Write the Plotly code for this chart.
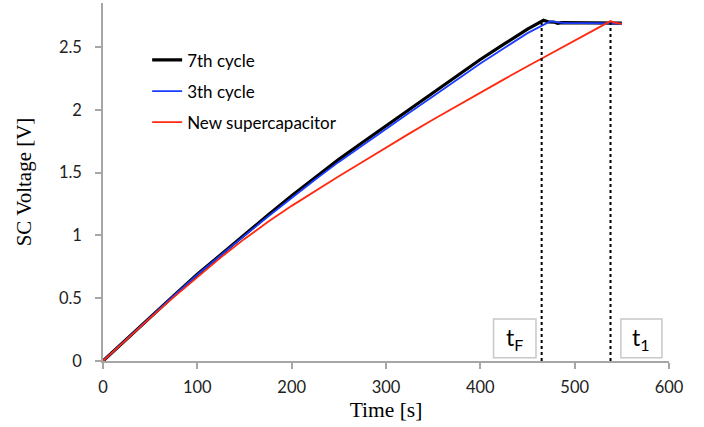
import plotly.graph_objects as go

# ---- data ----
t_7th = [0, 25, 50, 75, 100, 125, 150, 175, 200, 225, 250, 275, 300, 325, 350, 375, 400, 425, 450, 467,
         472, 478, 482, 486, 500, 520, 550]
v_7th = [0, 0.175, 0.35, 0.52, 0.69, 0.85, 1.008, 1.162, 1.315, 1.463, 1.605, 1.74, 1.872, 2.003, 2.135, 2.268, 2.40, 2.522, 2.642, 2.712,
         2.700, 2.698, 2.688, 2.694, 2.693, 2.693, 2.690]

t_3th = [0, 25, 50, 75, 100, 125, 150, 175, 200, 225, 250, 275, 300, 325, 350, 375, 400, 425, 450, 474,
         490, 510, 530, 550]
v_3th = [0, 0.175, 0.35, 0.52, 0.688, 0.845, 0.998, 1.15, 1.3, 1.445, 1.585, 1.718, 1.848, 1.978, 2.108, 2.238, 2.368, 2.49, 2.61, 2.703,
         2.690, 2.689, 2.688, 2.687]

t_new = [0, 25, 50, 75, 100, 125, 150, 175, 200, 225, 250, 275, 300, 325, 350, 375, 400, 425, 450, 475, 500, 525, 538, 542, 550]
v_new = [0, 0.172, 0.343, 0.508, 0.67, 0.825, 0.972, 1.108, 1.235, 1.355, 1.47, 1.585, 1.70, 1.812, 1.922, 2.03, 2.137, 2.242, 2.347, 2.45, 2.55, 2.65, 2.706, 2.694, 2.684]

series_names = ["7th cycle", "3th cycle", "New supercapacitor"]
series_colors = ["#000000", "#1a3cff", "#ff2a10"]
series_widths = [3.2, 1.8, 1.8]

t_F = 465
t_1 = 538
v_marker_top = 2.69

x_ticks = [0, 100, 200, 300, 400, 500, 600]
y_ticks = [0, 0.5, 1, 1.5, 2, 2.5]
y_tick_labels = ["0", "0.5", "1", "1.5", "2", "2.5"]

fig = go.Figure()
for i, (tx, vy) in enumerate([(t_7th, v_7th), (t_3th, v_3th), (t_new, v_new)]):
    fig.add_trace(go.Scatter(
        x=tx, y=vy, mode="lines", name=series_names[i],
        line=dict(color=series_colors[i], width=series_widths[i]),
        legendgroup=series_names[i],
    ))

# vertical dotted markers
for tv in (t_F, t_1):
    fig.add_shape(type="line", xref="x", yref="y", x0=tv, x1=tv, y0=0, y1=v_marker_top,
                  line=dict(color="#000000", width=2, dash="dot"))

# label boxes
boxes = [(414, 459, "t<sub>F</sub>"), (549, 592.5, "t<sub>1</sub>")]
for x0, x1, txt in boxes:
    fig.add_shape(type="rect", xref="x", yref="y", x0=x0, x1=x1, y0=0.026, y1=0.335,
                  line=dict(color="#c8c8c8", width=1.5), fillcolor="white", layer="above")
    fig.add_annotation(x=(x0 + x1) / 2, y=0.18, xref="x", yref="y", text=txt, showarrow=False,
                       font=dict(family="Lato", size=23, color="#000000"))

axis_line = "#a6a6a6"
fig.update_layout(
    width=704, height=427,
    margin=dict(l=103, r=35, t=3, b=66),
    paper_bgcolor="white", plot_bgcolor="white",
    showlegend=True,
    legend=dict(x=0.078, y=0.89, xanchor="left", yanchor="top",
                font=dict(family="Lato", size=17, color="#000000"),
                tracegroupgap=6, bgcolor="rgba(0,0,0,0)"),
    xaxis=dict(range=[0, 600], tickvals=x_ticks, showgrid=False, zeroline=False,
               showline=True, linecolor=axis_line, linewidth=1.5,
               ticks="outside", ticklen=6, tickcolor=axis_line, tickwidth=1.5,
               ticklabelstandoff=4,
               tickfont=dict(family="Lato", size=16.5, color="#222222"),
               title=dict(text="Time [s]", font=dict(family="Liberation Serif", size=21.5, color="#000000"), standoff=6)),
    yaxis=dict(range=[0, 2.85], tickvals=y_ticks, ticktext=y_tick_labels, showgrid=False, zeroline=False,
               showline=True, linecolor=axis_line, linewidth=1.5,
               ticks="outside", ticklen=6, tickcolor=axis_line, tickwidth=1.5,
               ticklabelstandoff=10,
               tickfont=dict(family="Lato", size=16.5, color="#222222"),
               title=dict(text="SC Voltage [V]", font=dict(family="Liberation Serif", size=21, color="#000000"), standoff=22)),
)

fig.write_html("out.html")
